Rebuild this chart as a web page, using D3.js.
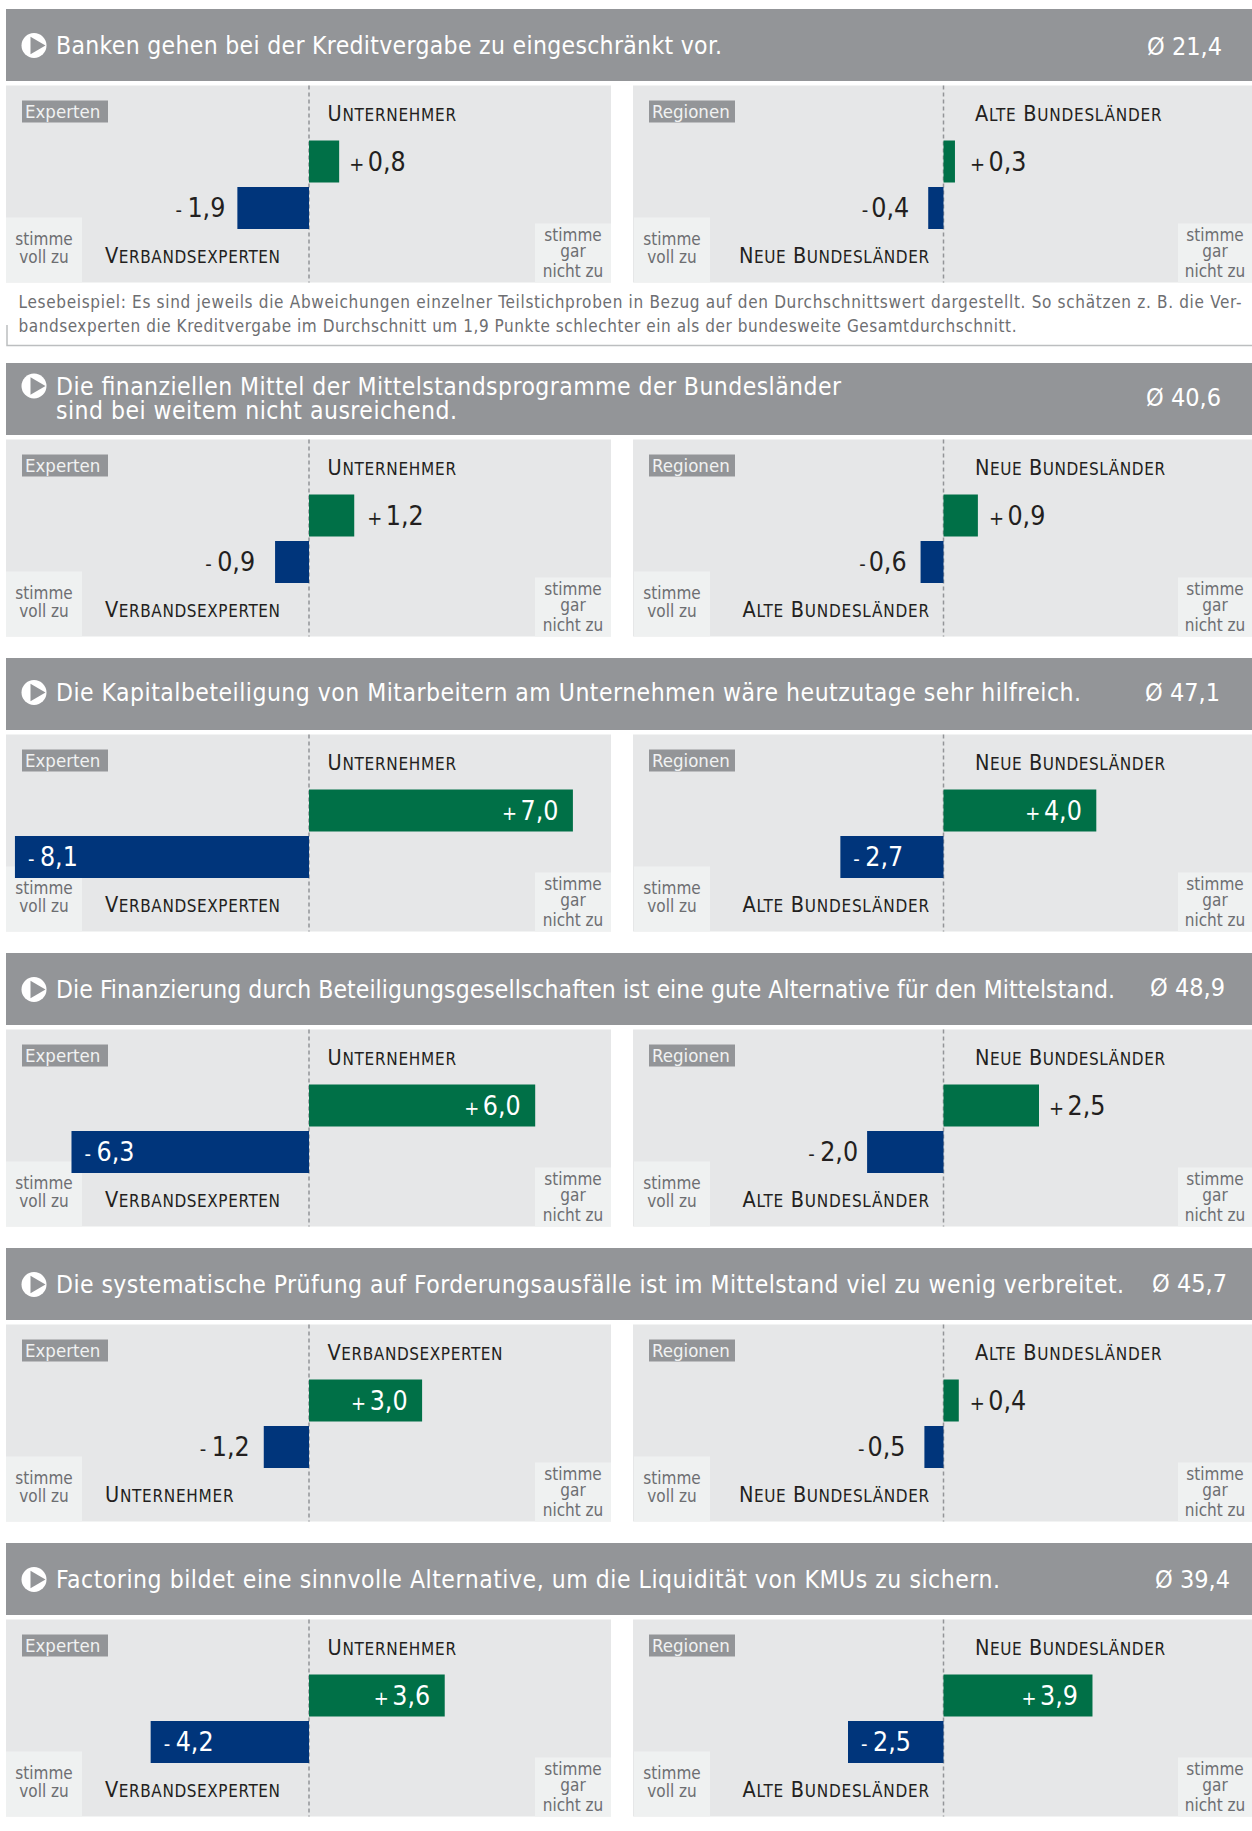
<!DOCTYPE html>
<html>
<head>
<meta charset="utf-8">
<script src="https://cdn.jsdelivr.net/npm/d3@7/dist/d3.min.js"></script>
<style>
	html, body { margin: 0; padding: 0; background: #fff; }
	svg { display: block; }
	text { font-family: "DejaVu Sans Condensed", "DejaVu Sans", sans-serif; font-stretch: condensed; }
</style>
</head>
<body>
<svg id="chart" width="1252" height="1831"></svg>
<script>
const titles = [
	['Banken gehen bei der Kreditvergabe zu eingeschränkt vor.'],
	['Die finanziellen Mittel der Mittelstandsprogramme der Bundesländer', 'sind bei weitem nicht ausreichend.'],
	['Die Kapitalbeteiligung von Mitarbeitern am Unternehmen wäre heutzutage sehr hilfreich.'],
	['Die Finanzierung durch Beteiligungsgesellschaften ist eine gute Alternative für den Mittelstand.'],
	['Die systematische Prüfung auf Forderungsausfälle ist im Mittelstand viel zu wenig verbreitet.'],
	['Factoring bildet eine sinnvolle Alternative, um die Liquidität von KMUs zu sichern.'],
]
const averages = ['Ø 21,4', 'Ø 40,6', 'Ø 47,1', 'Ø 48,9', 'Ø 45,7', 'Ø 39,4']

const expertTopNames = ['Unternehmer', 'Unternehmer', 'Unternehmer', 'Unternehmer', 'Verbandsexperten', 'Unternehmer']
const expertTopValues = [0.8, 1.2, 7.0, 6.0, 3.0, 3.6]
const expertTopLabels = ['+ 0,8', '+ 1,2', '+ 7,0', '+ 6,0', '+ 3,0', '+ 3,6']
const expertBottomNames = ['Verbandsexperten', 'Verbandsexperten', 'Verbandsexperten', 'Verbandsexperten', 'Unternehmer', 'Verbandsexperten']
const expertBottomValues = [-1.9, -0.9, -8.1, -6.3, -1.2, -4.2]
const expertBottomLabels = ['- 1,9', '- 0,9', '- 8,1', '- 6,3', '- 1,2', '- 4,2']

const regionTopNames = ['Alte Bundesländer', 'Neue Bundesländer', 'Neue Bundesländer', 'Neue Bundesländer', 'Alte Bundesländer', 'Neue Bundesländer']
const regionTopValues = [0.3, 0.9, 4.0, 2.5, 0.4, 3.9]
const regionTopLabels = ['+ 0,3', '+ 0,9', '+ 4,0', '+ 2,5', '+ 0,4', '+ 3,9']
const regionBottomNames = ['Neue Bundesländer', 'Alte Bundesländer', 'Alte Bundesländer', 'Alte Bundesländer', 'Neue Bundesländer', 'Alte Bundesländer']
const regionBottomValues = [-0.4, -0.6, -2.7, -2.0, -0.5, -2.5]
const regionBottomLabels = ['-0,4', '-0,6', '- 2,7', '- 2,0', '-0,5', '- 2,5']

const leftScaleLines = ['stimme', 'voll zu']
const rightScaleLines = ['stimme', 'gar', 'nicht zu']

const caption = [
	'Lesebeispiel: Es sind jeweils die Abweichungen einzelner Teilstichproben in Bezug auf den Durchschnittswert dargestellt. So schätzen z. B. die Ver-',
	'bandsexperten die Kreditvergabe im Durchschnitt um 1,9 Punkte schlechter ein als der bundesweite Gesamtdurchschnitt.',
]

const colors = {
	header: '#939598',
	panel: '#e6e7e8',
	box: '#eff1f1',
	positive: '#007047',
	negative: '#00357b',
	dark: '#231f20',
	gray: '#6d6e71',
}

// layout only, per row: the original was set by hand, so the gaps differ a bit
const layout = {
	titleWidths: [[666], [785, 401], [1025], [1059], [1068], [944]],
	titleY: [45, 32, 43, 45, 45, 45],
	averageEnd: [1222, 1221, 1220, 1225, 1227, 1230],
	averageY: [46, 43, 43, 43, 44, 45],
	nameWidths: { 'Unternehmer': 128.5, 'Verbandsexperten': 175, 'Alte Bundesländer': 186.5, 'Neue Bundesländer': 190 },
	captionWidths: [1223, 998],
}

const config = {
	rowTop: i => i === 0 ? 9 : 363 + (i - 1) * 295,
	headerHeight: 72,
	panelOffset: 76.5,
	panelHeight: 197,
	barHeight: 42,
	left: {
		x: 6, width: 605, zero: 309, unit: 37.7, tag: 'Experten', tagX: 22,
		bottomLabelX: 105, bottomAnchor: 'start', topLabelX: 327.5,
		boxA: [6, 76], boxB: [535, 76],
		topGaps: [10, 13, 0, 0, 0, 0], bottomGaps: [12, 20, 0, 0, 14, 0],
	},
	right: {
		x: 633, width: 619, zero: 943.5, unit: 38.2, tag: 'Regionen', tagX: 649,
		bottomLabelX: 929, bottomAnchor: 'end', topLabelX: 975,
		boxA: [634, 76], boxB: [1178, 74],
		topGaps: [15, 11, 0, 10, 11, 0], bottomGaps: [19, 14, 0, 9, 19, 0],
	},
}

const svg = d3.select('#chart')

function drawHeader(g, i) {
	const top = config.rowTop(i)
	const lines = titles[i]
	const head = g.append('g').attr('transform', `translate(0, ${top})`)

	head.append('rect')
		.attr('x', 6).attr('y', 0)
		.attr('width', 1246).attr('height', config.headerHeight)
		.attr('fill', colors.header)

	const iconY = layout.titleY[i] - (lines.length > 1 ? 9 : 8.5)
	head.append('circle')
		.attr('cx', 34).attr('cy', iconY).attr('r', 12.5)
		.attr('fill', '#fff')
	head.append('path')
		.attr('d', d3.symbol(d3.symbolTriangle, 130))
		.attr('transform', `translate(35.5, ${iconY}) rotate(90)`)
		.attr('fill', colors.header)

	head.append('text')
		.attr('class', 'title')
		.attr('fill', '#fff')
		.attr('font-size', 24.5)
		.selectAll('tspan')
		.data(lines)
		.join('tspan')
		.attr('x', 56)
		.attr('y', (d, k) => layout.titleY[i] + k * 23.5)
		.attr('textLength', (d, k) => layout.titleWidths[i][k])
		.text(d => d)

	head.append('text')
		.attr('x', layout.averageEnd[i])
		.attr('y', layout.averageY[i])
		.attr('text-anchor', 'end')
		.attr('fill', '#fff')
		.attr('font-size', 25)
		.text(averages[i])
}

function drawValueLabel(g, x, y, label, value, gap) {
	const inside = value > 2.5 || value <= -2.5
	const positive = value > 0
	const parts = label.match(/^([+-])(\s?)(.*)$/)
	let anchor, textX, fill
	if (inside) {
		anchor = positive ? 'end' : 'start'
		textX = positive ? x - 14.5 : x + 13
		fill = '#fff'
	} else {
		anchor = positive ? 'start' : 'end'
		textX = positive ? x + gap : x - gap
		fill = colors.dark
	}
	const text = g.append('text')
		.attr('x', textX)
		.attr('y', y + config.barHeight / 2 + 9)
		.attr('text-anchor', anchor)
		.attr('fill', fill)
		.attr('font-size', 26.5)
	text.append('tspan')
		.attr('font-size', 20)
		.text(parts[1])
	text.append('tspan')
		.attr('dx', parts[2] ? (positive ? 3.5 : 5.5) : 3)
		.text(parts[3])
}

function drawName(panel, name, x, y, anchor) {
	const text = panel.append('text')
		.attr('x', x).attr('y', y)
		.attr('text-anchor', anchor)
		.attr('textLength', layout.nameWidths[name])
		.attr('fill', colors.dark)
		.attr('font-size', 21.5)
	name.split(' ').forEach((word, k) => {
		text.append('tspan').text((k > 0 ? ' ' : '') + word[0])
		text.append('tspan').attr('font-size', 17).text(word.slice(1).toUpperCase())
	})
}

function drawPanel(g, i, side, topName, topValue, topLabel, bottomName, bottomValue, bottomLabel) {
	const top = config.rowTop(i) + config.panelOffset
	const reach = 7.8 * side.unit
	const xScale = d3.scaleLinear()
		.domain([-7.8, 7.8])
		.range([side.zero - reach, side.zero + reach])
		.clamp(true)

	const panel = g.append('g').attr('transform', `translate(0, ${top})`)

	panel.append('rect')
		.attr('x', side.x).attr('y', 0)
		.attr('width', side.width).attr('height', config.panelHeight)
		.attr('fill', colors.panel)

	// corner boxes
	panel.append('rect')
		.attr('x', side.boxA[0]).attr('y', config.panelHeight - 65)
		.attr('width', side.boxA[1]).attr('height', 65)
		.attr('fill', colors.box)
	panel.append('rect')
		.attr('x', side.boxB[0]).attr('y', config.panelHeight - 59)
		.attr('width', side.boxB[1]).attr('height', 59)
		.attr('fill', colors.box)

	panel.append('text')
		.attr('text-anchor', 'middle')
		.attr('fill', colors.gray)
		.attr('font-size', 17)
		.selectAll('tspan')
		.data(leftScaleLines)
		.join('tspan')
		.attr('x', side.boxA[0] + 38)
		.attr('y', (d, k) => 159.5 + k * 18)
		.text(d => d)
	panel.append('text')
		.attr('text-anchor', 'middle')
		.attr('fill', colors.gray)
		.attr('font-size', 17)
		.selectAll('tspan')
		.data(rightScaleLines)
		.join('tspan')
		.attr('x', side.boxB[0] + side.boxB[1] / 2)
		.attr('y', (d, k) => [155.5, 171.5, 191.5][k])
		.text(d => d)

	// tag
	panel.append('rect')
		.attr('x', side.tagX).attr('y', 15)
		.attr('width', 86).attr('height', 22)
		.attr('fill', colors.header)
	panel.append('text')
		.attr('x', side.tagX + 3).attr('y', 32)
		.attr('fill', '#f1f2f2')
		.attr('font-size', 18.5)
		.text(side.tag)

	// zero line
	panel.append('line')
		.attr('x1', xScale(0)).attr('x2', xScale(0))
		.attr('y1', 0).attr('y2', config.panelHeight)
		.attr('stroke', colors.header)
		.attr('stroke-width', 1.5)
		.attr('stroke-dasharray', '4 3')

	// series names
	drawName(panel, topName, side.topLabelX, 35.5, 'start')
	drawName(panel, bottomName, side.bottomLabelX, 177.5, side.bottomAnchor)

	// bars
	const bars = [
		{ value: topValue, label: topLabel, y: 55, gap: side.topGaps[i] },
		{ value: bottomValue, label: bottomLabel, y: 101.5, gap: side.bottomGaps[i] },
	]
	panel.selectAll('rect.bar')
		.data(bars)
		.join('rect')
		.attr('class', 'bar')
		.attr('x', d => Math.min(xScale(0), xScale(d.value)))
		.attr('y', d => d.y)
		.attr('width', d => Math.abs(xScale(d.value) - xScale(0)))
		.attr('height', config.barHeight)
		.attr('fill', d => d.value > 0 ? colors.positive : colors.negative)

	bars.forEach(d => {
		drawValueLabel(panel, xScale(d.value), d.y, d.label, d.value, d.gap)
	})
}

function drawCaption() {
	const g = svg.append('g')
	g.append('path')
		.attr('d', 'M7,325V345.5H1252')
		.attr('fill', 'none')
		.attr('stroke', '#bcbec0')
		.attr('stroke-width', 1.5)
	g.selectAll('text')
		.data(caption)
		.join('text')
		.attr('x', 18.5)
		.attr('y', (d, k) => 308 + k * 24)
		.attr('textLength', (d, k) => layout.captionWidths[k])
		.attr('fill', colors.gray)
		.attr('font-size', 17)
		.text(d => d)
}

function app() {
	drawCaption()
	titles.forEach((t, i) => {
		const row = svg.append('g').attr('class', 'row')
		drawHeader(row, i)
		drawPanel(row, i, config.left, expertTopNames[i], expertTopValues[i], expertTopLabels[i], expertBottomNames[i], expertBottomValues[i], expertBottomLabels[i])
		drawPanel(row, i, config.right, regionTopNames[i], regionTopValues[i], regionTopLabels[i], regionBottomNames[i], regionBottomValues[i], regionBottomLabels[i])
	})
}

app()
</script>
</body>
</html>
